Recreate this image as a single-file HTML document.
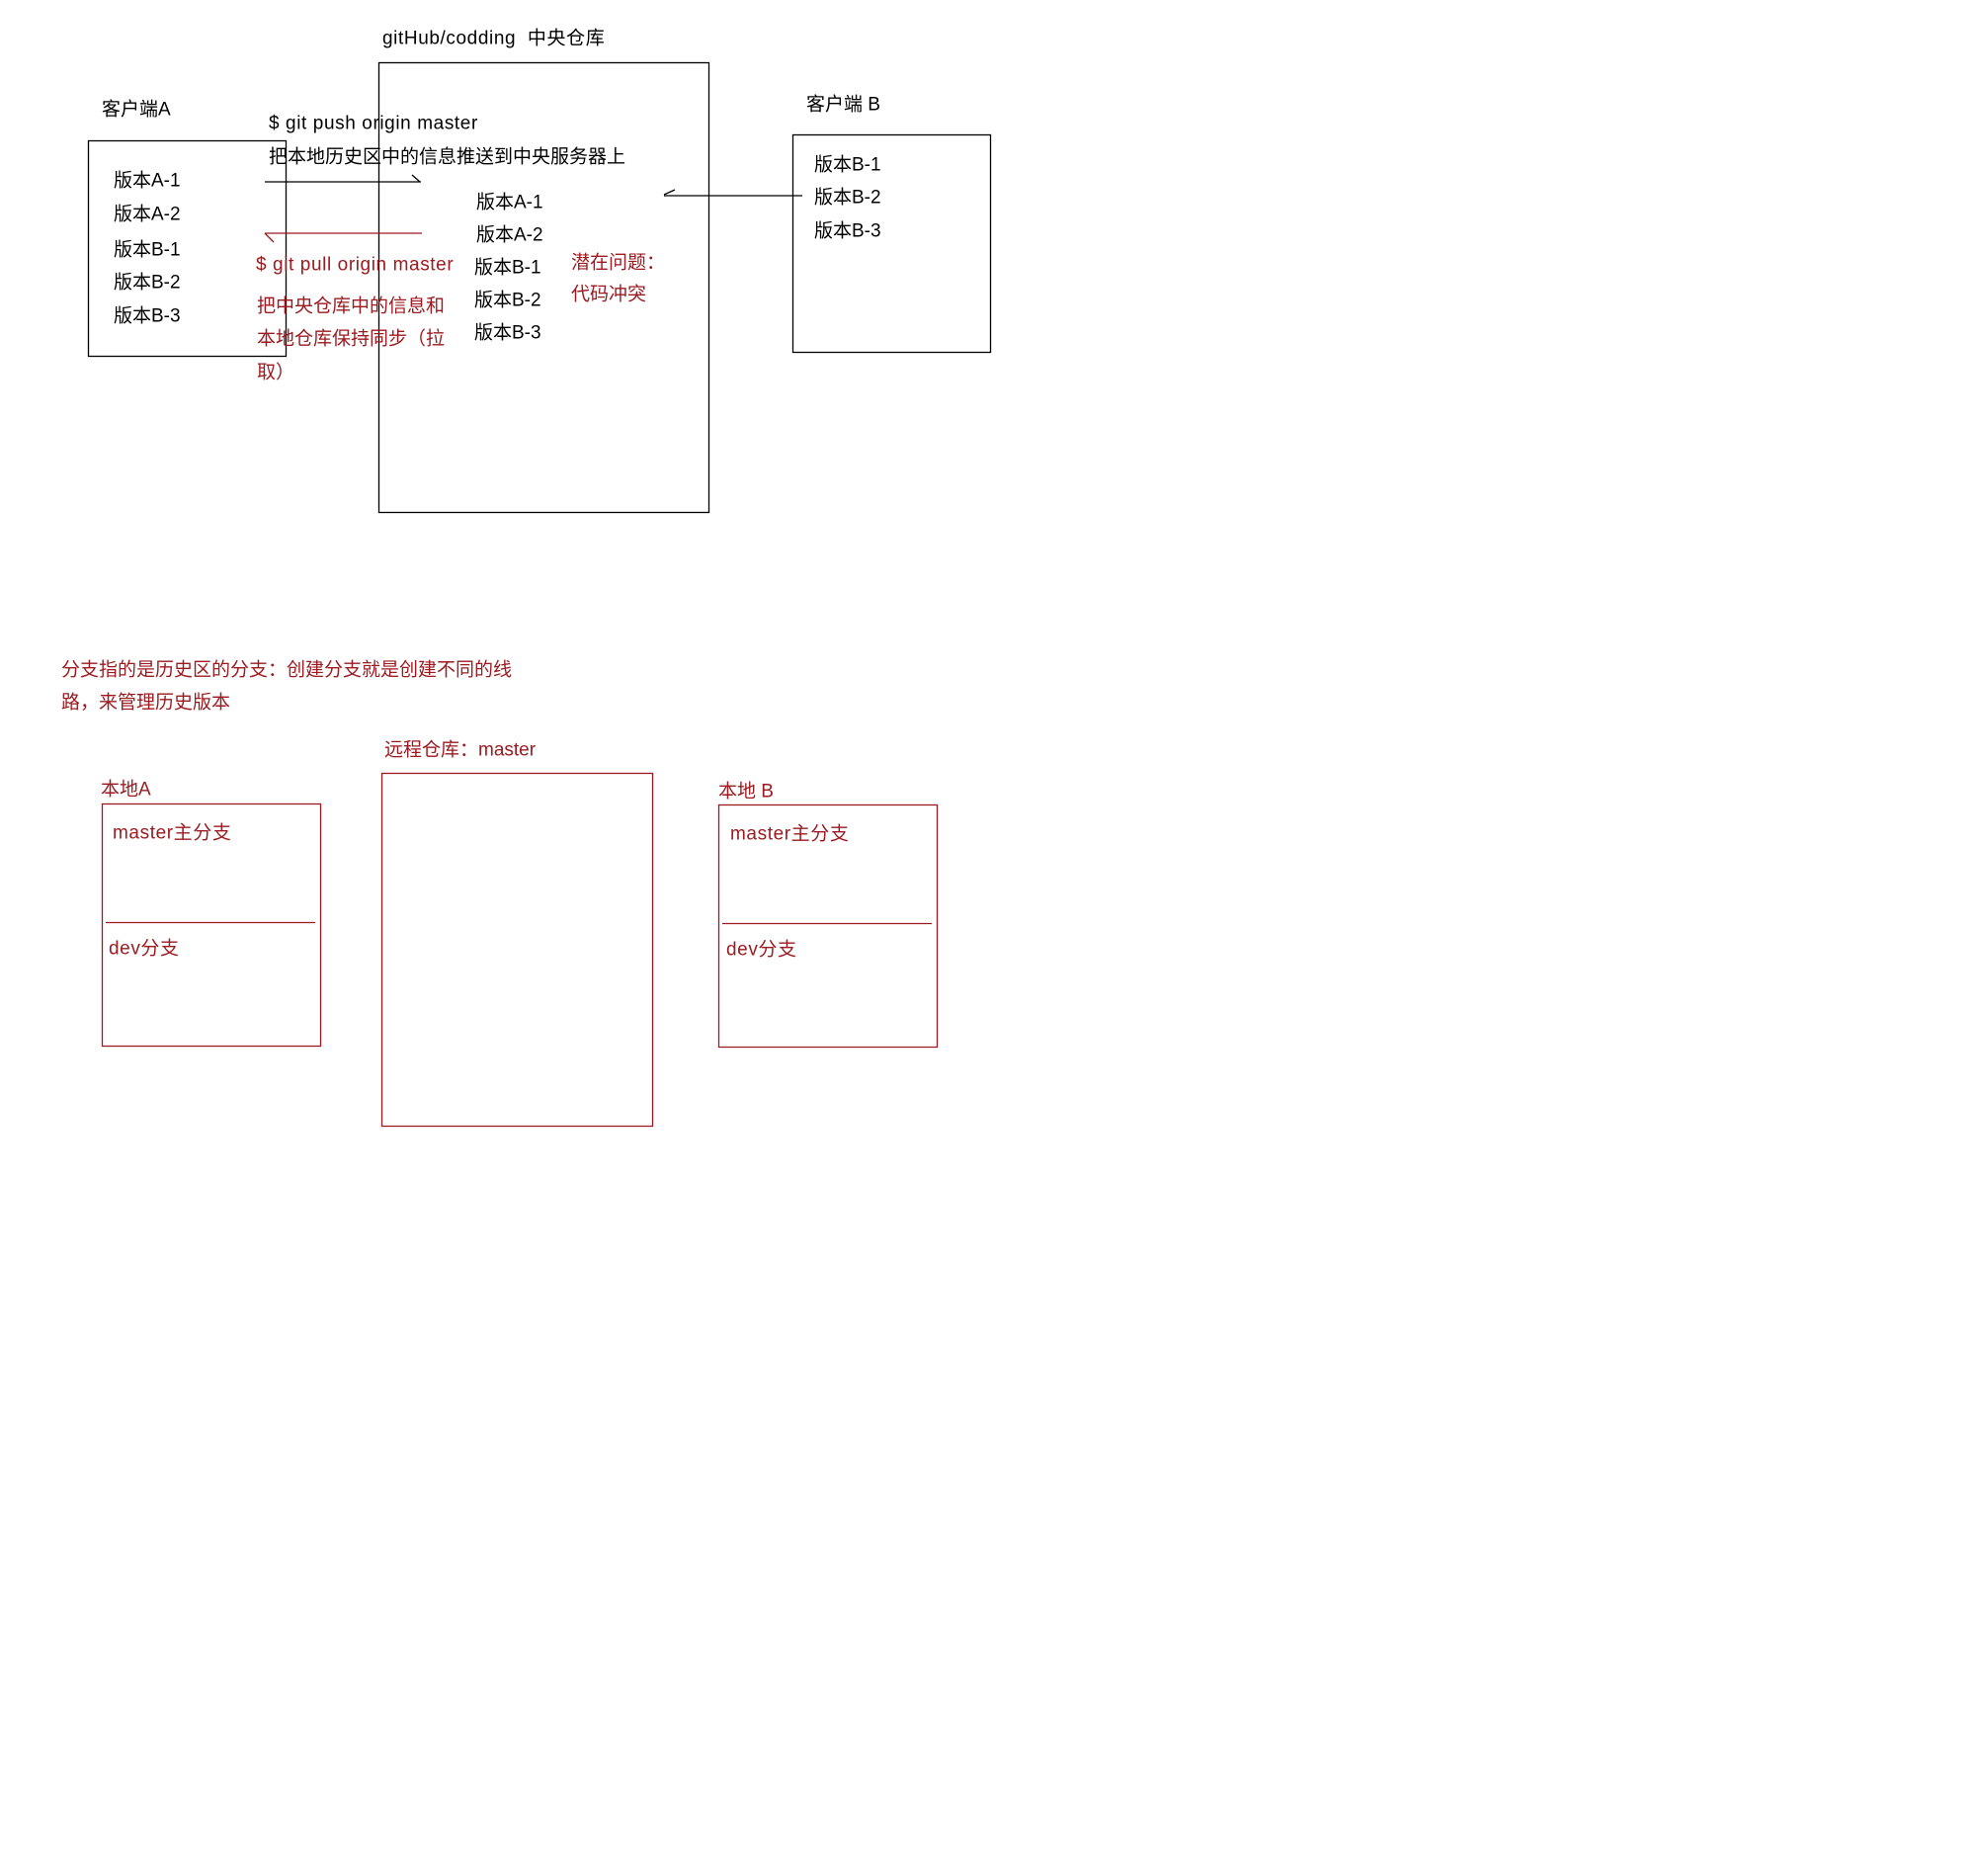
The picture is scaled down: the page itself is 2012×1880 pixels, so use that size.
<!DOCTYPE html>
<html><head><meta charset="utf-8"><style>
html,body{margin:0;padding:0;background:#fff;}
svg{display:block;}
text{font-family:"Liberation Sans","Noto Sans CJK SC",sans-serif;font-size:19px;dominant-baseline:central;}
.r{fill:#9b1b20;}
.l{letter-spacing:0.6px;}
</style></head><body>
<svg width="2012" height="1880" viewBox="0 0 2012 1880" xmlns="http://www.w3.org/2000/svg">
<g fill="none" stroke="#000" stroke-width="1.3">
<rect x="383.5" y="63.5" width="334" height="455"/>
<rect x="89.5" y="142.5" width="200" height="218"/>
<rect x="802.5" y="136.5" width="200" height="220"/>
<line x1="268" y1="184" x2="426" y2="184"/>
<polyline points="417,177 425,184"/>
<line x1="672" y1="198" x2="812" y2="198"/>
<polyline points="683,192 672,197"/>
</g>
<g fill="none" stroke="#9b1b20" stroke-width="1.3">
<line x1="268" y1="236" x2="427" y2="236"/>
<polyline points="268,236 277,245"/>
<rect x="103.5" y="813.5" width="221" height="245"/>
<line x1="107" y1="933.5" x2="319" y2="933.5"/>
<rect x="386.5" y="782.5" width="274" height="357"/>
<rect x="727.5" y="814.5" width="221" height="245"/>
<line x1="731" y1="934.5" x2="943" y2="934.5"/>
</g>
<text x="387" y="39" class="l">gitHub/codding&#160;&#160;中央仓库</text>
<text x="103" y="111">客户端A</text>
<text x="816" y="106">客户端 B</text>
<text x="115" y="183">版本A-1</text>
<text x="115" y="217">版本A-2</text>
<text x="115" y="253">版本B-1</text>
<text x="115" y="286">版本B-2</text>
<text x="115" y="320">版本B-3</text>
<text x="272" y="125" class="l">$ git push origin master</text>
<text x="272" y="159">把本地历史区中的信息推送到中央服务器上</text>
<text x="482" y="205">版本A-1</text>
<text x="482" y="238">版本A-2</text>
<text x="480" y="271">版本B-1</text>
<text x="480" y="304">版本B-2</text>
<text x="480" y="337">版本B-3</text>
<text x="824" y="167">版本B-1</text>
<text x="824" y="200">版本B-2</text>
<text x="824" y="234">版本B-3</text>
<text class="r l" x="259" y="268">$ git pull origin master</text>
<text class="r" x="260" y="310">把中央仓库中的信息和</text>
<text class="r" x="260" y="343">本地仓库保持同步（拉</text>
<text class="r" x="260" y="377">取）</text>
<text class="r" x="578" y="266">潜在问题：</text>
<text class="r" x="578" y="298">代码冲突</text>
<text class="r" x="62" y="678">分支指的是历史区的分支：创建分支就是创建不同的线</text>
<text class="r" x="62" y="711">路，来管理历史版本</text>
<text class="r" x="389" y="759">远程仓库：master</text>
<text class="r" x="102" y="799">本地A</text>
<text class="r" x="727" y="801">本地 B</text>
<text class="r l" x="114" y="843">master主分支</text>
<text class="r l" x="110" y="960">dev分支</text>
<text class="r l" x="739" y="844">master主分支</text>
<text class="r l" x="735" y="961">dev分支</text>
</svg>
</body></html>
